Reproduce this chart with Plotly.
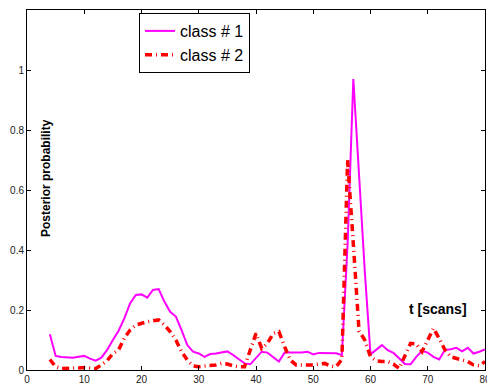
import plotly.graph_objects as go

t = list(range(4, 81))
class1 = [0.119, 0.047, 0.043, 0.042, 0.041, 0.044, 0.047, 0.038, 0.031, 0.041,
          0.067, 0.100, 0.131, 0.172, 0.222, 0.250, 0.252, 0.241, 0.267, 0.270,
          0.228, 0.194, 0.178, 0.133, 0.083, 0.061, 0.055, 0.044, 0.053, 0.055,
          0.058, 0.062, 0.050, 0.035, 0.022, 0.019, 0.039, 0.061, 0.058, 0.042,
          0.028, 0.058, 0.058, 0.058, 0.058, 0.061, 0.052, 0.057, 0.057, 0.056,
          0.056, 0.050, 0.420, 0.970, 0.630, 0.330, 0.052, 0.067, 0.083, 0.066,
          0.057, 0.039, 0.020, 0.019, 0.044, 0.064, 0.058, 0.044, 0.035, 0.067,
          0.069, 0.074, 0.062, 0.074, 0.055, 0.061, 0.069]
class2 = [0.035, 0.011, 0.005, 0.005, 0.005, 0.007, 0.008, 0.006, 0.005, 0.017,
          0.031, 0.055, 0.067, 0.106, 0.133, 0.150, 0.156, 0.161, 0.164, 0.167,
          0.150, 0.128, 0.100, 0.061, 0.033, 0.014, 0.011, 0.013, 0.014, 0.017,
          0.022, 0.020, 0.014, 0.011, 0.011, 0.067, 0.122, 0.072, 0.089, 0.122,
          0.128, 0.078, 0.033, 0.017, 0.017, 0.017, 0.017, 0.020, 0.022, 0.013,
          0.011, 0.035, 0.700, 0.420, 0.130, 0.100, 0.044, 0.031, 0.028, 0.028,
          0.020, 0.005, 0.050, 0.089, 0.087, 0.061, 0.100, 0.139, 0.105, 0.067,
          0.044, 0.039, 0.035, 0.028, 0.017, 0.014, 0.028]

x_ticks = [0, 10, 20, 30, 40, 50, 60, 70, 80]
y_ticks = [0, 0.2, 0.4, 0.6, 0.8, 1]
y_tick_labels = ["0", "0.2", "0.4", "0.6", "0.8", "1"]

fig = go.Figure()
fig.add_trace(go.Scatter(x=t, y=class1, mode="lines", name="class # 1",
                         line=dict(color="#FF00FF", width=2)))
fig.add_trace(go.Scatter(x=t, y=class2, mode="lines", name="class # 2",
                         line=dict(color="#FF0000", width=3.5, dash="7px,4px,1px,4px")))

axis_common = dict(showline=True, linecolor="black", linewidth=1, mirror="ticks",
                   ticks="inside", ticklen=4, tickcolor="black", showgrid=False,
                   zeroline=False, ticklabeloverflow="allow", automargin=False,
                   tickfont=dict(family="Arial, Liberation Sans", size=10, color="#222"))
fig.update_xaxes(range=[0, 80], tickvals=x_ticks, **axis_common)
fig.update_yaxes(range=[0, 1.2], tickvals=y_ticks, ticktext=y_tick_labels, **axis_common)

fig.add_annotation(text="<b>Posterior probability</b>", xref="paper", yref="paper",
                   x=(46 - 27) / 458, y=(370 - 178) / 360, textangle=-90, showarrow=False,
                   font=dict(family="Arial, Liberation Sans", size=12, color="black"),
                   xanchor="center", yanchor="middle")
fig.add_annotation(text="<b>t [scans]</b>", xref="paper", yref="paper",
                   x=(438 - 27) / 458, y=(370 - 309) / 360, showarrow=False,
                   font=dict(family="Arial, Liberation Sans", size=14, color="black"),
                   xanchor="center", yanchor="middle")

fig.update_layout(
    width=487, height=387,
    margin=dict(l=27, r=2, t=10, b=17),
    paper_bgcolor="white", plot_bgcolor="white",
    showlegend=True,
    legend=dict(x=(139 - 27) / 458, y=(370 - 13) / 360, xanchor="left", yanchor="top",
                bgcolor="white", bordercolor="black", borderwidth=1,
                font=dict(family="Arial, Liberation Sans", size=16, color="black"),
                tracegroupgap=0, itemwidth=30, entrywidth=112, entrywidthmode="pixels"),
)

fig.write_html("out.html")
